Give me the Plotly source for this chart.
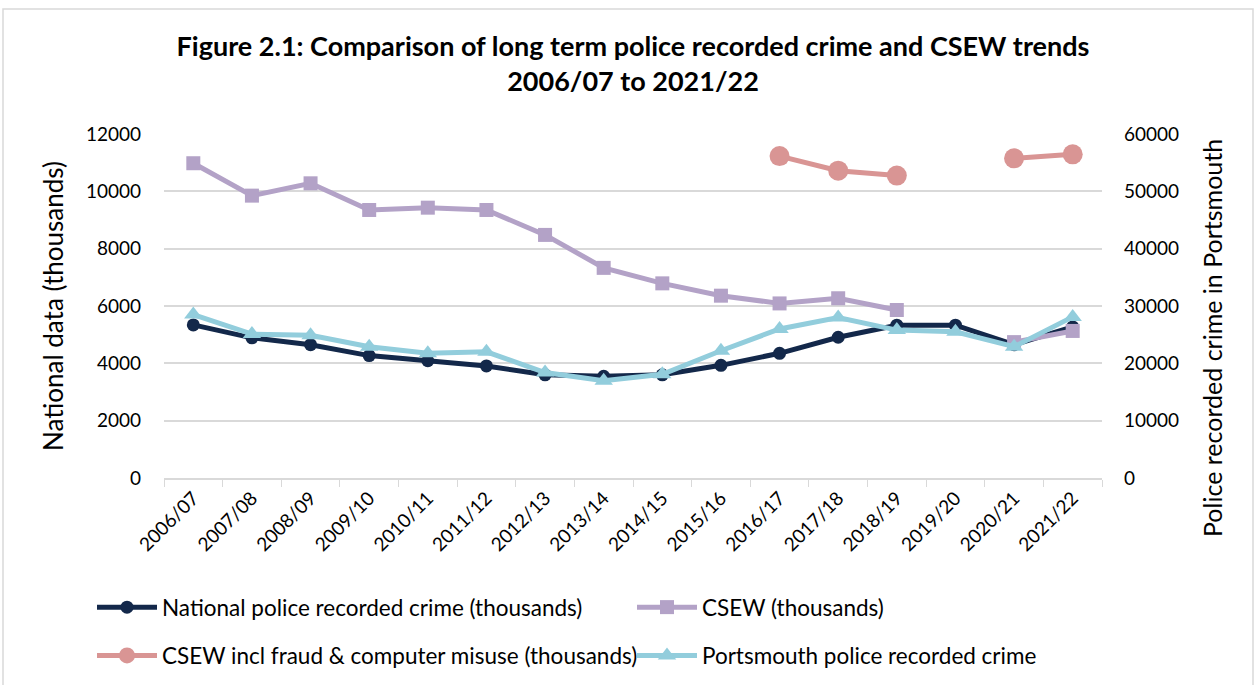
import plotly.graph_objects as go

years = ["2006/07", "2007/08", "2008/09", "2009/10", "2010/11", "2011/12", "2012/13", "2013/14",
         "2014/15", "2015/16", "2016/17", "2017/18", "2018/19", "2019/20", "2020/21", "2021/22"]
national = [5340, 4890, 4650, 4270, 4090, 3910, 3600, 3550, 3600, 3930, 4350, 4910, 5330, 5330, 4650, 5270]
csew = [10980, 9850, 10280, 9350, 9430, 9350, 8480, 7330, 6790, 6360, 6090, 6270, 5860, None, 4740, 5130]
csew_fraud = [None, None, None, None, None, None, None, None, None, None, 11230, 10720, 10550, None, 11150, 11290]
portsmouth = [28500, 25100, 24900, 22900, 21750, 22000, 18400, 16950, 18100, 22200, 26000, 28000, 25800, 25500, 22900, 28100]

FONT = "Lato"
C_NAT = "#13284A"
C_CSEW = "#B3A2C7"
C_FRAUD = "#D99594"
C_PORT = "#92CDDC"

fig = go.Figure()
fig.add_trace(go.Scatter(x=years, y=national, name="National police recorded crime (thousands)",
                         mode="lines+markers", line=dict(color=C_NAT, width=5),
                         marker=dict(symbol="circle", size=13, color=C_NAT),
                         legend="legend", legendgroup="a"))
fig.add_trace(go.Scatter(x=years, y=csew, name="CSEW (thousands)",
                         mode="lines+markers", line=dict(color=C_CSEW, width=5),
                         marker=dict(symbol="square", size=14, color=C_CSEW), connectgaps=False,
                         legend="legend2", legendgroup="b"))
fig.add_trace(go.Scatter(x=years, y=csew_fraud, name="CSEW incl fraud & computer misuse (thousands)",
                         mode="lines+markers", line=dict(color=C_FRAUD, width=5),
                         marker=dict(symbol="circle", size=20, color=C_FRAUD), connectgaps=False,
                         legend="legend", legendgroup="c"))
fig.add_trace(go.Scatter(x=years, y=portsmouth, name="Portsmouth police recorded crime", yaxis="y2",
                         mode="lines+markers", line=dict(color=C_PORT, width=5),
                         marker=dict(symbol="triangle-up", size=16, color=C_PORT),
                         legend="legend2", legendgroup="d"))

L, R, T, B = 164, 1102, 134, 478
W, H = 1256, 685
def px(x):
    return (x - L) / (R - L)
def py(y):
    return (B - y) / (B - T)

legend_common = dict(orientation="v", yanchor="top", font=dict(size=22.5, family=FONT),
                     itemwidth=60, tracegroupgap=16, bgcolor="rgba(0,0,0,0)",
                     xanchor="left")

fig.update_layout(
    width=W, height=H,
    margin=dict(l=L, r=W - R, t=T, b=H - B, pad=0, autoexpand=False),
    paper_bgcolor="white", plot_bgcolor="white",
    font=dict(family=FONT, size=19, color="#000000"),
    title=dict(text="<b>Figure 2.1: Comparison of long term police recorded crime and CSEW trends<br>2006/07 to 2021/22</b>",
               x=0.5, xref="paper", xanchor="center", y=1 - 56 / H, yanchor="top",
               font=dict(family=FONT, size=27, color="#000000")),
    xaxis=dict(type="category", range=[-0.5, len(years) - 0.5], tickangle=-45, showgrid=False,
               showline=True, linecolor="#D9D9D9", linewidth=1.5, ticks="outside",
               tickson="boundaries", ticklen=7, tickcolor="#D9D9D9",
               tickfont=dict(size=19), zeroline=False),
    yaxis=dict(range=[0, 12000], dtick=2000, tickformat="d", showgrid=True, gridcolor="#D9D9D9",
               gridwidth=1.5, zeroline=False, showline=False, ticks="", tickfont=dict(size=19),
               ticklabelstandoff=22,
               title=dict(text="National data (thousands)", font=dict(size=26), standoff=14)),
    yaxis2=dict(range=[0, 60000], dtick=10000, tickformat="d", overlaying="y", side="right",
                showgrid=False, zeroline=False, showline=False, ticks="", tickfont=dict(size=19),
                ticklabelstandoff=21),
    legend=dict(x=px(92), y=py(586), **legend_common),
    legend2=dict(x=px(632), y=py(586), **legend_common),
    showlegend=True,
)

fig.add_annotation(text="Police recorded crime in Portsmouth", textangle=-90,
                   xref="paper", yref="paper", x=px(1212), y=py(338),
                   xanchor="center", yanchor="middle", showarrow=False,
                   font=dict(family=FONT, size=25, color="#000000"))

fig.add_shape(type="rect", xref="paper", yref="paper", x0=px(3), x1=px(1253), y0=py(700), y1=py(9),
              line=dict(color="#D9D9D9", width=1.5), fillcolor="rgba(0,0,0,0)", layer="below")

fig.write_html("out.html")
